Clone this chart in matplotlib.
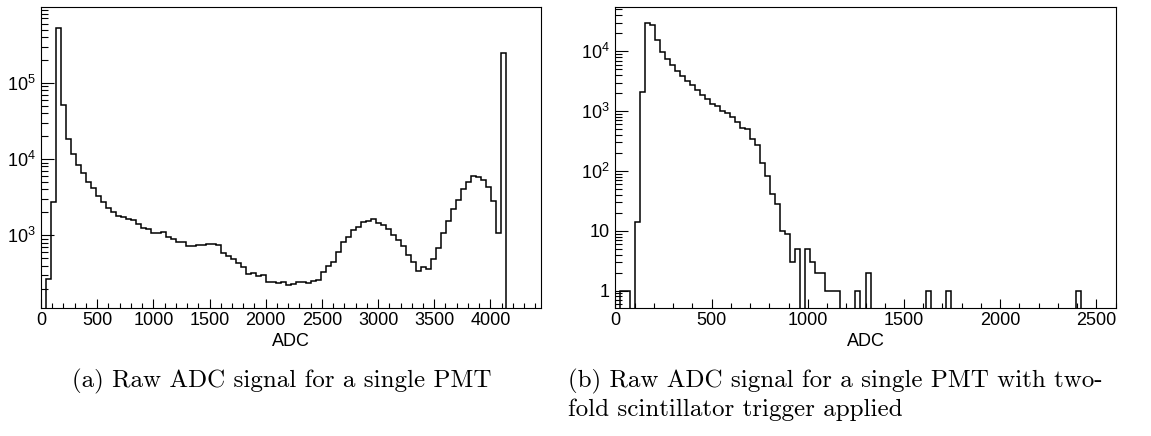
import numpy as np
import matplotlib
matplotlib.use("Agg")
import matplotlib.pyplot as plt
from matplotlib.ticker import FixedLocator, LogLocator, MultipleLocator, NullFormatter, FuncFormatter

plt.rcParams["font.family"] = ["Liberation Sans", "DejaVu Sans"]
plt.rcParams["mathtext.fontset"] = "custom"
plt.rcParams["mathtext.rm"] = "Liberation Sans"

# ---------- data ----------
# (a) raw ADC, 100 bins from 0 to 4450
raw_range = (0, 4450)
raw_counts = [
    0, 265, 2755, 526000, 52000, 18100, 11600, 8400, 6500, 5000,
    4130, 3270, 2750, 2300, 2000, 1770, 1720, 1620, 1590, 1390,
    1260, 1200, 1080, 1060, 1120, 959, 903, 817, 812, 731,
    724, 746, 753, 761, 769, 746, 580, 536, 494, 437,
    381, 311, 317, 293, 299, 244, 242, 234, 247, 221,
    232, 247, 242, 239, 254, 262, 333, 396, 443, 598,
    817, 959, 1173, 1297, 1508, 1525, 1622, 1463, 1377, 1221,
    1000, 868, 731, 550, 451, 344, 381, 358, 484, 676,
    1062, 1538, 2213, 2905, 4010, 5045, 6045, 5864, 5303, 4258,
    2790, 1062, 243000, 0, 0, 0, 0, 0, 0, 0,
]

# (b) with twofold scintillator trigger, 100 bins from 0 to 2600
trig_range = (0, 2600)
trig_counts = [
    0, 1, 1, 0, 14, 2050, 29100, 27600, 15300, 9770,
    7290, 5860, 4710, 3840, 3170, 2685, 2243, 1850, 1566, 1324,
    1210, 1012, 915, 785, 663, 520, 501, 337, 274, 134,
    81, 42, 28, 10, 9, 3, 5, 0, 5, 3,
    2, 2, 1, 1, 1, 0, 0, 0, 1, 0,
    2, 0, 0, 0, 0, 0, 0, 0, 0, 0,
    0, 0, 1, 0, 0, 0, 1, 0, 0, 0,
    0, 0, 0, 0, 0, 0, 0, 0, 0, 0,
    0, 0, 0, 0, 0, 0, 0, 0, 0, 0,
    0, 0, 1, 0, 0, 0, 0, 0, 0, 0,
]

caption_a = "(a) Raw ADC signal for a single PMT"
caption_b = ["(b) Raw ADC signal for a single PMT with two-",
             "fold scintillator trigger applied"]


def log_label(v, pos):
    if v == 1:
        return "1"
    if v == 10:
        return "10"
    return r"$\mathregular{10^{%d}}$" % round(np.log10(v))


def draw_hist(ax, counts, xrange, ylim, yticks):
    counts = np.asarray(counts, dtype=float)
    edges = np.linspace(xrange[0], xrange[1], len(counts) + 1)
    # empty bins drawn down below the axis like ROOT does
    shown = np.where(counts > 0, counts, 1e-3)
    ax.stairs(shown, edges, baseline=None, color="black", lw=1.1)

    ax.set_yscale("log")
    ax.set_xlim(*xrange)
    ax.set_ylim(*ylim)

    ax.xaxis.set_major_locator(MultipleLocator(500))
    ax.xaxis.set_minor_locator(MultipleLocator(100))
    ax.yaxis.set_major_locator(FixedLocator(yticks))
    ax.yaxis.set_major_formatter(FuncFormatter(log_label))
    ax.yaxis.set_minor_locator(LogLocator(base=10, subs=np.arange(2, 10), numticks=20))
    ax.yaxis.set_minor_formatter(NullFormatter())

    ax.tick_params(axis="x", which="major", direction="in", length=6.5, width=0.8,
                   labelsize=13, pad=3)
    ax.tick_params(axis="x", which="minor", direction="in", length=3.5, width=0.8)
    ax.tick_params(axis="y", which="major", direction="in", length=9, width=0.8,
                   labelsize=13, pad=4)
    ax.tick_params(axis="y", which="minor", direction="in", length=5, width=0.8)
    for s in ax.spines.values():
        s.set_linewidth(0.8)
    ax.set_xlabel("ADC", fontsize=13, labelpad=3)


fig = plt.figure(figsize=(11.51, 4.36), dpi=100)
W, H = 1151, 436

ax1 = fig.add_axes([41 / W, 1 - 308 / H, 500 / W, 301 / H])
draw_hist(ax1, raw_counts, raw_range, (111, 9.9e5), [1e3, 1e4, 1e5])

ax2 = fig.add_axes([615.3 / W, 1 - 308 / H, 500.4 / W, 301 / H])
draw_hist(ax2, trig_counts, trig_range, (0.514, 5.48e4), [1, 10, 1e2, 1e3, 1e4])

fig.text(282 / W, 1 - 381 / H, caption_a, family="cmr10", fontsize=18,
         ha="center", va="center")
fig.text(568 / W, 1 - 381 / H, caption_b[0], family="cmr10", fontsize=18,
         ha="left", va="center")
fig.text(568 / W, 1 - 410 / H, caption_b[1], family="cmr10", fontsize=18,
         ha="left", va="center")

fig.savefig("out.png", dpi=100)
